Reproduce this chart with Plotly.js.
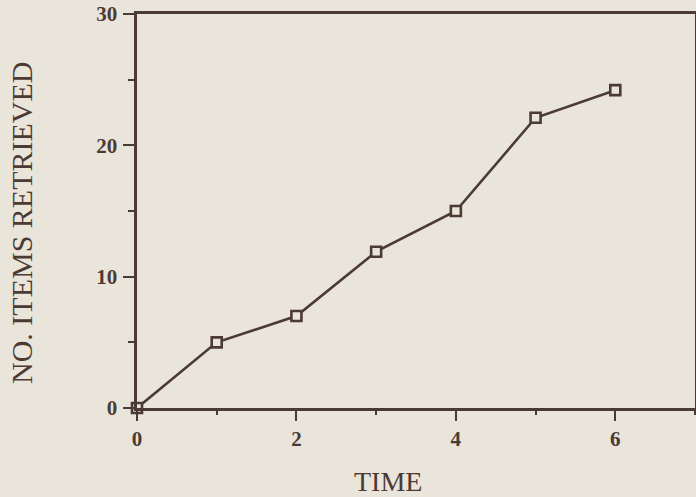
<!DOCTYPE html>
<html>
<head>
<meta charset="utf-8">
<script src="https://cdn.plot.ly/plotly-3.0.1.min.js"></script>
<style>html,body{margin:0;padding:0;background:#e9e5da;}</style>
</head>
<body>
<div id="chart" style="width:696px;height:497px;"></div>
<script>
const timeValues = [0, 1, 2, 3, 4, 5, 6];
const itemsRetrieved = [0, 5, 7, 11.9, 15, 22.1, 24.2];
const xTickVals = [0, 2, 4, 6];
const yTickVals = [0, 10, 20, 30];
const xTitle = 'TIME';
const yTitle = 'NO. ITEMS RETRIEVED';

const ink = '#4c3a35';
const bg = '#e9e5da';
const trace = {
  x: timeValues,
  y: itemsRetrieved,
  mode: 'lines+markers',
  line: {color: ink, width: 2.6},
  marker: {symbol: 'square', size: 10, color: bg, line: {width: 2.6, color: ink}},
  cliponaxis: false,
  hoverinfo: 'skip'
};

const tickFont = {size: 21, family: '"Liberation Serif", serif', weight: 'bold', color: ink};

const layout = {
  width: 696, height: 497,
  margin: {l: 137, r: 1, t: 14, b: 89},
  paper_bgcolor: bg,
  plot_bgcolor: bg,
  showlegend: false,
  font: {family: '"Liberation Serif", "DejaVu Serif", serif', color: ink},
  xaxis: {
    range: [0, 7], tickvals: xTickVals, ticks: 'outside', ticklen: 10, tickwidth: 2, tickcolor: ink,
    minor: {dtick: 1, ticks: 'outside', ticklen: 4, tickwidth: 2, tickcolor: ink, showgrid: false},
    showgrid: false, zeroline: false, showline: true, linecolor: ink, linewidth: 2.6, mirror: true,
    ticklabelstandoff: 0,
    tickfont: tickFont
  },
  yaxis: {
    range: [0, 30], tickvals: yTickVals, ticks: 'outside', ticklen: 11, tickwidth: 2, tickcolor: ink,
    minor: {dtick: 5, ticks: 'outside', ticklen: 6, tickwidth: 2, tickcolor: ink, showgrid: false},
    showgrid: false, zeroline: false, showline: true, linecolor: ink, linewidth: 2.6, mirror: true,
    ticklabelstandoff: 2,
    tickfont: tickFont
  },
  annotations: [
    {text: xTitle, xref: 'paper', yref: 'paper', x: (388 - 137) / 558, y: -(481 - 408) / 394,
     xanchor: 'center', yanchor: 'middle', showarrow: false,
     font: {size: 28, family: '"Liberation Serif", serif', color: ink}},
    {text: yTitle, xref: 'paper', yref: 'paper', x: -(137 - 21) / 558, y: (408 - 223) / 394,
     xanchor: 'center', yanchor: 'middle', showarrow: false, textangle: -90,
     font: {size: 30, family: '"Liberation Serif", serif', color: ink}}
  ]
};

Plotly.newPlot('chart', [trace], layout, {staticPlot: true, displayModeBar: false});
</script>
</body>
</html>
